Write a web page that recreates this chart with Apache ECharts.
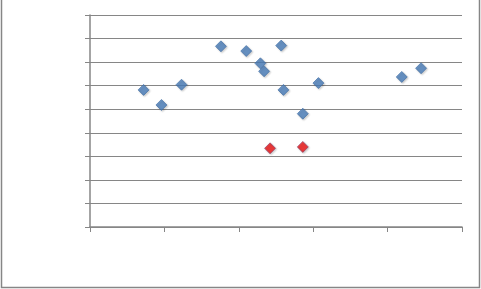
<!DOCTYPE html>
<html>
<head>
<meta charset="utf-8">
<script src="https://cdn.jsdelivr.net/npm/echarts@6/dist/echarts.min.js"></script>
<style>html,body{margin:0;padding:0;background:#fff;}#c{width:481px;height:289px;}</style>
</head>
<body>
<div id="c"></div>
<script>
var xTicks = [0, 1, 2, 3, 4, 5];
var yTicks = [0, 1, 2, 3, 4, 5, 6, 7, 8, 9];
var blueX = [0.72, 0.96, 1.23, 1.76, 2.10, 2.29, 2.34, 2.57, 2.60, 2.86, 3.07, 4.19, 4.45];
var blueY = [5.82, 5.18, 6.04, 7.67, 7.47, 6.95, 6.61, 7.70, 5.82, 4.81, 6.11, 6.37, 6.74];
var redX = [2.42, 2.86];
var redY = [3.34, 3.40];

function pairs(xs, ys) { return xs.map(function (x, i) { return [x, ys[i]]; }); }

var chart = echarts.init(document.getElementById('c'), null, {renderer: 'canvas'});
chart.setOption({
  animation: false,
  backgroundColor: '#ffffff',
  graphic: [{
    type: 'rect', shape: {x: 1.5, y: -2, width: 478, height: 289.5},
    style: {fill: 'none', stroke: '#868686', lineWidth: 1.5}, silent: true
  }],
  grid: {left: 90, top: 15, width: 372, height: 212, containLabel: false},
  xAxis: {
    type: 'value', min: xTicks[0], max: xTicks[xTicks.length - 1], interval: 1,
    axisLine: {lineStyle: {color: '#868686', width: 1.5}},
    axisTick: {show: true, length: 5, lineStyle: {color: '#868686'}},
    axisLabel: {color: '#ffffff', fontSize: 9, fontFamily: 'Liberation Sans'},
    splitLine: {show: false}
  },
  yAxis: {
    type: 'value', min: yTicks[0], max: yTicks[yTicks.length - 1], interval: 1,
    axisLine: {show: true, lineStyle: {color: '#868686', width: 1.5}},
    axisTick: {show: true, length: 5, lineStyle: {color: '#868686'}},
    axisLabel: {color: '#ffffff', fontSize: 9, fontFamily: 'Liberation Sans'},
    splitLine: {show: true, lineStyle: {color: '#868686', width: 1.2}}
  },
  series: [{
    type: 'scatter', symbol: 'diamond', symbolSize: 11,
    itemStyle: {color: '#4a7ebb', borderColor: '#3d6ca6', borderWidth: 0.8, shadowColor: 'rgba(0,0,0,0.25)', shadowBlur: 2, shadowOffsetX: 1, shadowOffsetY: 1},
    data: pairs(blueX, blueY)
  }, {
    type: 'scatter', symbol: 'diamond', symbolSize: 11,
    itemStyle: {color: '#ee1111', borderColor: '#8a3f6a', borderWidth: 0.8, shadowColor: 'rgba(0,0,0,0.25)', shadowBlur: 2, shadowOffsetX: 1, shadowOffsetY: 1},
    data: pairs(redX, redY)
  }]
});
</script>
</body>
</html>
